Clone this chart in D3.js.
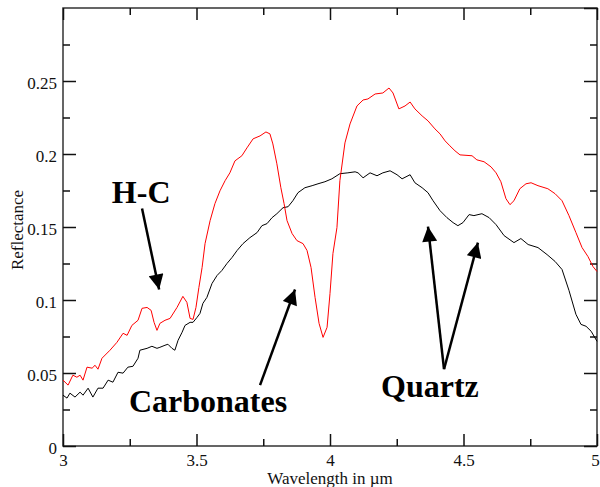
<!DOCTYPE html>
<html>
<head>
<meta charset="utf-8">
<script src="https://cdn.jsdelivr.net/npm/d3@7"></script>
<style>
  body { margin: 0; background: #fff; }
  svg { display: block; }
</style>
</head>
<body>
<div id="chart"></div>
<script>
'use strict';

// Spectra: wavelength (um) and reflectance
var redWave = [3.000, 3.019, 3.037, 3.052, 3.064, 3.075, 3.090, 3.109, 3.120, 3.131, 3.146, 3.176, 3.202, 3.225, 3.240, 3.258, 3.281, 3.296, 3.315, 3.330, 3.341, 3.352, 3.363, 3.382, 3.401, 3.427, 3.449, 3.464, 3.476, 3.487, 3.498, 3.509, 3.521, 3.532, 3.551, 3.569, 3.588, 3.607, 3.625, 3.644, 3.670, 3.689, 3.712, 3.738, 3.760, 3.775, 3.786, 3.801, 3.816, 3.828, 3.839, 3.858, 3.876, 3.899, 3.914, 3.929, 3.944, 3.959, 3.974, 3.989, 4.000, 4.011, 4.026, 4.037, 4.056, 4.075, 4.101, 4.124, 4.142, 4.169, 4.198, 4.221, 4.236, 4.258, 4.281, 4.300, 4.318, 4.345, 4.367, 4.393, 4.412, 4.431, 4.449, 4.468, 4.487, 4.532, 4.550, 4.577, 4.603, 4.622, 4.640, 4.659, 4.674, 4.689, 4.711, 4.734, 4.753, 4.779, 4.816, 4.843, 4.869, 4.895, 4.921, 4.944, 4.966, 4.985, 5.000];
var redRefl = [0.0451, 0.0417, 0.0485, 0.0471, 0.0485, 0.0451, 0.0540, 0.0533, 0.0553, 0.0526, 0.0601, 0.0656, 0.0710, 0.0772, 0.0758, 0.0826, 0.0861, 0.0943, 0.0949, 0.0929, 0.0847, 0.0792, 0.0840, 0.0861, 0.0874, 0.0949, 0.1025, 0.0984, 0.0874, 0.0867, 0.0949, 0.1086, 0.1223, 0.1386, 0.1544, 0.1660, 0.1748, 0.1817, 0.1871, 0.1953, 0.1988, 0.2042, 0.2104, 0.2124, 0.2151, 0.2138, 0.2069, 0.1933, 0.1769, 0.1660, 0.1544, 0.1455, 0.1407, 0.1386, 0.1339, 0.1223, 0.1018, 0.0840, 0.0744, 0.0813, 0.1045, 0.1318, 0.1496, 0.1817, 0.2076, 0.2206, 0.2329, 0.2370, 0.2377, 0.2411, 0.2418, 0.2452, 0.2418, 0.2309, 0.2329, 0.2356, 0.2309, 0.2261, 0.2227, 0.2172, 0.2138, 0.2090, 0.2056, 0.2022, 0.1994, 0.1988, 0.1960, 0.1947, 0.1912, 0.1871, 0.1810, 0.1694, 0.1653, 0.1680, 0.1762, 0.1796, 0.1803, 0.1783, 0.1762, 0.1728, 0.1680, 0.1578, 0.1462, 0.1359, 0.1298, 0.1229, 0.1195];

var blackWave = [3.000, 3.015, 3.026, 3.045, 3.064, 3.075, 3.094, 3.112, 3.131, 3.150, 3.169, 3.187, 3.206, 3.225, 3.243, 3.262, 3.281, 3.288, 3.315, 3.333, 3.352, 3.363, 3.382, 3.393, 3.408, 3.419, 3.431, 3.446, 3.457, 3.476, 3.487, 3.502, 3.513, 3.524, 3.539, 3.558, 3.577, 3.595, 3.614, 3.633, 3.652, 3.674, 3.700, 3.727, 3.745, 3.764, 3.783, 3.801, 3.824, 3.843, 3.861, 3.880, 3.906, 3.933, 3.955, 3.981, 4.007, 4.037, 4.067, 4.094, 4.105, 4.124, 4.150, 4.176, 4.198, 4.225, 4.251, 4.270, 4.300, 4.318, 4.345, 4.367, 4.386, 4.412, 4.438, 4.461, 4.479, 4.498, 4.521, 4.539, 4.569, 4.596, 4.622, 4.652, 4.689, 4.715, 4.742, 4.779, 4.813, 4.843, 4.869, 4.895, 4.921, 4.940, 4.959, 4.978, 5.000];
var blackRefl = [0.0348, 0.0328, 0.0362, 0.0335, 0.0369, 0.0348, 0.0396, 0.0335, 0.0396, 0.0396, 0.0451, 0.0437, 0.0505, 0.0499, 0.0540, 0.0546, 0.0601, 0.0656, 0.0669, 0.0683, 0.0669, 0.0676, 0.0690, 0.0697, 0.0669, 0.0656, 0.0724, 0.0779, 0.0826, 0.0847, 0.0847, 0.0881, 0.0908, 0.0977, 0.1018, 0.1113, 0.1168, 0.1202, 0.1250, 0.1291, 0.1339, 0.1386, 0.1427, 0.1462, 0.1509, 0.1523, 0.1564, 0.1591, 0.1632, 0.1639, 0.1680, 0.1735, 0.1769, 0.1783, 0.1796, 0.1810, 0.1830, 0.1865, 0.1871, 0.1878, 0.1871, 0.1837, 0.1871, 0.1851, 0.1871, 0.1885, 0.1858, 0.1830, 0.1858, 0.1803, 0.1769, 0.1735, 0.1680, 0.1612, 0.1564, 0.1530, 0.1509, 0.1530, 0.1585, 0.1578, 0.1591, 0.1564, 0.1516, 0.1441, 0.1393, 0.1421, 0.1380, 0.1359, 0.1311, 0.1264, 0.1209, 0.1066, 0.0902, 0.0833, 0.0820, 0.0786, 0.0717];

var xMajorTicks = [3, 3.5, 4, 4.5, 5];
var xMinorTicks = [3.25, 3.75, 4.25, 4.75];
var yMajorTicks = [0, 0.05, 0.1, 0.15, 0.2, 0.25];
var yMinorTicks = [0.025, 0.075, 0.125, 0.175, 0.225, 0.275];

// annotation labels and arrows, in data units
var labels = [
  { text: 'H-C', x: 3.183, y: 0.1667 },
  { text: 'Carbonates', x: 3.247, y: 0.0232 },
  { text: 'Quartz', x: 4.191, y: 0.0335 }
];
var arrows = [
  { x1: 3.296, y1: 0.1626, x2: 3.360, y2: 0.1072 },
  { x1: 3.738, y1: 0.0417, x2: 3.869, y2: 0.1072 },
  { x1: 4.427, y1: 0.0526, x2: 4.367, y2: 0.1503 },
  { x1: 4.427, y1: 0.0526, x2: 4.554, y2: 0.1393 }
];

var width = 600;
var height = 487;
var plotLeft = 63, plotRight = 597, plotTop = 8, plotBottom = 446;
var serif = '"Liberation Serif", "Times New Roman", serif';

var svg = d3.select('#chart').append('svg').attr('width', width).attr('height', height);

var x = d3.scaleLinear().domain([3, 5]).range([plotLeft, plotRight]);
var y = d3.scaleLinear().domain([0, 0.3]).range([plotBottom, plotTop]);

// frame
svg.append('rect').attr('x', plotLeft).attr('y', plotTop).attr('width', plotRight - plotLeft).attr('height', plotBottom - plotTop)
  .attr('fill', 'none').attr('stroke', '#333').attr('stroke-width', 1.5);

function styleAxis(g) {
  g.select('.domain').remove();
  g.selectAll('.tick line').attr('stroke', '#111').attr('stroke-width', 1.5);
  g.selectAll('.tick text').attr('fill', '#111').style('font-family', serif).style('font-size', '17px');
}

// bottom axis with labels
svg.append('g').attr('transform', 'translate(0,' + plotBottom + ')')
  .call(d3.axisBottom(x).tickValues(xMajorTicks).tickSize(-12).tickPadding(8).tickFormat(d3.format('')))
  .call(styleAxis)
  .selectAll('.tick text').attr('dx', function (d) { return d === 5 ? '-2' : null; });
svg.append('g').attr('transform', 'translate(0,' + plotBottom + ')')
  .call(d3.axisBottom(x).tickValues(xMinorTicks).tickSize(-7).tickFormat(''))
  .call(styleAxis);
// top mirror ticks
svg.append('g').attr('transform', 'translate(0,' + plotTop + ')')
  .call(d3.axisTop(x).tickValues(xMajorTicks).tickSize(-12).tickFormat(''))
  .call(styleAxis);
svg.append('g').attr('transform', 'translate(0,' + plotTop + ')')
  .call(d3.axisTop(x).tickValues(xMinorTicks).tickSize(-7).tickFormat(''))
  .call(styleAxis);

// left axis with labels
svg.append('g').attr('transform', 'translate(' + plotLeft + ',0)')
  .call(d3.axisLeft(y).tickValues(yMajorTicks).tickSize(-13).tickPadding(6).tickFormat(d3.format('')))
  .call(styleAxis)
  .selectAll('.tick text').attr('dy', '0.42em');
svg.append('g').attr('transform', 'translate(' + plotLeft + ',0)')
  .call(d3.axisLeft(y).tickValues(yMinorTicks).tickSize(-7).tickFormat(''))
  .call(styleAxis);
// right mirror ticks
svg.append('g').attr('transform', 'translate(' + plotRight + ',0)')
  .call(d3.axisRight(y).tickValues(yMajorTicks.concat([0.3])).tickSize(-13).tickFormat(''))
  .call(styleAxis);
svg.append('g').attr('transform', 'translate(' + plotRight + ',0)')
  .call(d3.axisRight(y).tickValues(yMinorTicks).tickSize(-7).tickFormat(''))
  .call(styleAxis);

// axis titles
svg.append('text').attr('x', (plotLeft + plotRight) / 2).attr('y', 484).attr('text-anchor', 'middle')
  .style('font-family', serif).style('font-size', '17px').attr('fill', '#111')
  .text('Wavelength in \u00b5m');
svg.append('text').attr('transform', 'translate(23,' + ((plotTop + plotBottom) / 2 + 3) + ') rotate(-90)')
  .attr('text-anchor', 'middle')
  .style('font-family', serif).style('font-size', '17px').attr('fill', '#111')
  .text('Reflectance');

// spectra
var line = d3.line().x(function (d) { return x(d[0]); }).y(function (d) { return y(d[1]); });

svg.append('path').datum(d3.zip(blackWave, blackRefl))
  .attr('d', line).attr('fill', 'none').attr('stroke', '#000').attr('stroke-width', 1);
svg.append('path').datum(d3.zip(redWave, redRefl))
  .attr('d', line).attr('fill', 'none').attr('stroke', '#ff0000').attr('stroke-width', 1);

// annotations
svg.append('defs').append('marker').attr('id', 'head')
  .attr('viewBox', '0 0 10 10').attr('refX', 10).attr('refY', 5)
  .attr('markerUnits', 'userSpaceOnUse').attr('markerWidth', 17).attr('markerHeight', 15)
  .attr('orient', 'auto')
  .append('path').attr('d', 'M 0 0 L 10 5 L 0 10 Z').attr('fill', '#000');

svg.selectAll('line.arrow').data(arrows).enter().append('line').attr('class', 'arrow')
  .attr('x1', function (d) { return x(d.x1); }).attr('y1', function (d) { return y(d.y1); })
  .attr('x2', function (d) { return x(d.x2); }).attr('y2', function (d) { return y(d.y2); })
  .attr('stroke', '#000').attr('stroke-width', 2.5).attr('marker-end', 'url(#head)');

svg.selectAll('text.label').data(labels).enter().append('text').attr('class', 'label')
  .attr('x', function (d) { return x(d.x); }).attr('y', function (d) { return y(d.y); })
  .style('font-family', serif).style('font-size', '32px').style('font-weight', 'bold').attr('fill', '#000')
  .text(function (d) { return d.text; });
</script>
</body>
</html>
